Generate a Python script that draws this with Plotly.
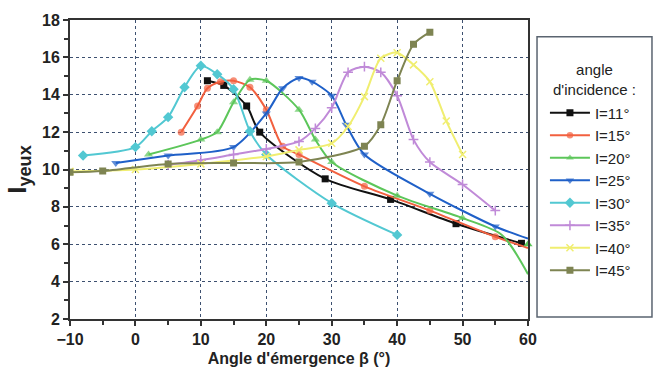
import plotly.graph_objects as go

# ---- data ----
x_11 = [11, 13.5, 17, 19, 29, 39, 49, 59]
y_11 = [14.75, 14.5, 13.4, 12.0, 9.5, 8.4, 7.1, 6.05]

x_15 = [7, 9.5, 11, 13, 15, 17.5, 20, 22.5, 25, 35, 45, 55, 60]
y_15 = [12.0, 13.4, 14.35, 14.7, 14.75, 14.4, 13.2, 11.25, 10.8, 9.1, 7.8, 6.4, 5.8]
s_15 = [7] * 12 + [0]

x_20 = [2, 10, 12.5, 15, 17.5, 20, 25, 27.5, 30, 40, 50, 56, 60]
y_20 = [10.8, 11.6, 12.0, 13.6, 14.8, 14.75, 13.2, 11.6, 10.4, 8.6, 7.4, 6.5, 4.4]
s_20 = [8] * 11 + [0, 0]
x_20_end = [60]
y_20_end = [6.0]

x_25 = [-3, 5, 15, 20, 22.5, 25, 27, 30, 32.2, 35, 45, 55, 60]
y_25 = [10.35, 10.75, 11.2, 13.0, 14.35, 14.9, 14.7, 13.95, 12.4, 10.8, 8.7, 6.95, 6.3]
s_25 = [8] * 12 + [0]

x_30 = [-8, 0, 2.5, 5, 7.5, 10, 12.5, 15, 17.5, 20, 30, 40]
y_30 = [10.75, 11.2, 12.05, 12.8, 14.4, 15.55, 15.1, 14.3, 12.05, 10.8, 8.2, 6.5]

x_35 = [5, 10, 15, 20, 25, 27.5, 30, 32.5, 35, 37.5, 40, 42.5, 45, 50, 55]
y_35 = [10.25, 10.5, 10.8, 11.1, 11.5, 12.2, 13.3, 15.2, 15.5, 15.2, 13.95, 11.6, 10.4, 9.2, 7.8]

x_40 = [-10, 0, 10, 20, 25, 30, 32.5, 35, 37.5, 40, 42.5, 45, 47.5, 50]
y_40 = [9.9, 10.0, 10.3, 10.7, 11.05, 11.4, 12.3, 13.9, 15.95, 16.25, 15.6, 14.7, 12.6, 10.8]

x_45 = [-10, -5, 5, 15, 25, 35, 37.5, 40, 42.5, 45]
y_45 = [9.85, 9.92, 10.3, 10.35, 10.4, 11.25, 12.4, 14.75, 16.7, 17.35]

names = ["I=11°", "I=15°", "I=20°", "I=25°", "I=30°", "I=35°", "I=40°", "I=45°"]
colors = ["#111111", "#f2603f", "#5cc65a", "#1f60c8", "#52c8d2", "#c08ad8", "#f0ee70", "#7e8452"]
symbols = ["square", "circle", "triangle-up", "triangle-down", "diamond", "cross-thin", "x-thin", "square-x"]

xs = [x_11, x_15, x_20, x_25, x_30, x_35, x_40, x_45]
ys = [y_11, y_15, y_20, y_25, y_30, y_35, y_40, y_45]
sizes = [7, s_15, s_20, s_25, 8, 7, 7, 7]

x_ticks = [-10, 0, 10, 20, 30, 40, 50, 60]
y_ticks = [2, 4, 6, 8, 10, 12, 14, 16, 18]

fig = go.Figure()
for i in range(8):
    thin = symbols[i] in ("cross-thin", "x-thin")
    fig.add_trace(go.Scatter(
        x=xs[i], y=ys[i], name=names[i], mode="lines+markers",
        line=dict(color=colors[i], width=2, shape="spline", smoothing=0.75),
        marker=dict(symbol=symbols[i], size=sizes[i], color=colors[i],
                    line=dict(color=colors[i], width=1.5 if thin else 0)),
        cliponaxis=True,
    ))
    if i == 2:
        fig.add_trace(go.Scatter(
            x=x_20_end, y=y_20_end, mode="markers", showlegend=False,
            marker=dict(symbol="triangle-up", size=8, color=colors[2]),
            cliponaxis=False,
        ))

tickfont = dict(family="Liberation Sans, Arial, sans-serif", size=16, color="#222222", weight="bold")
gridc = "#3d5070"

# legend frame (pixel box converted to paper fractions of the 458x304 plot area)
fig.add_shape(type="rect", xref="paper", yref="paper",
              x0=1.0197, x1=1.2707, y0=0.0066, y1=0.944,
              line=dict(color="#5a6470", width=1.5), fillcolor="rgba(0,0,0,0)")

fig.add_annotation(text="angle<br>d'incidence :", xref="paper", yref="paper",
                   x=1.146, y=0.80, xanchor="center", yanchor="middle",
                   showarrow=False, align="center",
                   font=dict(family="Liberation Sans, Arial, sans-serif", size=15, color="#222222"))

fig.update_layout(
    width=658, height=377,
    margin=dict(l=70, r=130, t=15, b=58),
    paper_bgcolor="white", plot_bgcolor="white",
    font=dict(family="Liberation Sans, Arial, sans-serif"),
    xaxis=dict(
        range=[-10, 60], tickvals=x_ticks, ticks="outside", ticklen=5, tickwidth=1.5,
        tickcolor="#333", tickfont=tickfont,
        showline=True, linecolor="#333", linewidth=2, mirror=True,
        showgrid=True, gridcolor=gridc, griddash="dot", gridwidth=1.3,
        zeroline=False,
        minor=dict(dtick=5, ticks="outside", ticklen=4, tickcolor="#333", showgrid=False),
        title=dict(text="Angle d'émergence β (°)", standoff=6,
                   font=dict(size=16, color="#222222", weight="bold")),
    ),
    yaxis=dict(
        range=[2, 18], tickvals=y_ticks, ticks="outside", ticklen=5, tickwidth=1.5,
        tickcolor="#333", tickfont=tickfont,
        showline=True, linecolor="#333", linewidth=2, mirror=True,
        showgrid=True, gridcolor=gridc, griddash="dot", gridwidth=1.3,
        zeroline=False,
        minor=dict(dtick=1, ticks="outside", ticklen=4, tickcolor="#333", showgrid=False),
        title=dict(text="I<sub>yeux</sub>", standoff=8,
                   font=dict(size=26, color="#222222", weight="bold")),
    ),
    legend=dict(
        x=1.037, y=0.744, xanchor="left", yanchor="top",
        borderwidth=0, bgcolor="rgba(0,0,0,0)",
        font=dict(size=15, color="#222222"),
        tracegroupgap=0, itemwidth=40,
    ),
)

fig.write_html("out.html")
